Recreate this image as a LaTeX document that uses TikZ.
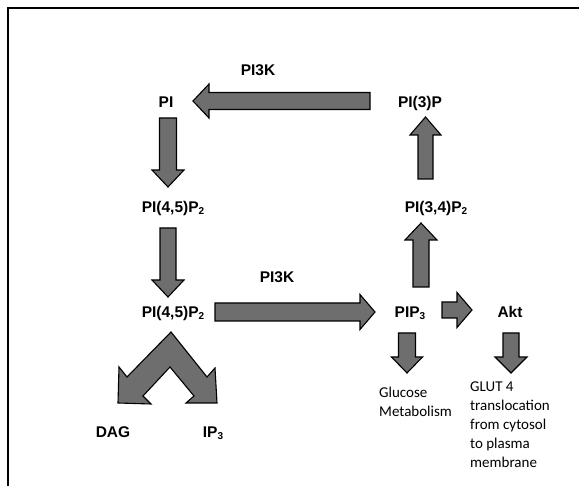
\documentclass[tikz,border=0pt]{standalone}
\usepackage{fontspec}
\setmainfont{Liberation Sans}
\newfontfamily\calibrifont{Carlito}
\usetikzlibrary{calc}
\definecolor{arrowgray}{HTML}{6E6E6E}
\tikzset{
  blockarrow/.style n args={3}{draw=black, line width=1.1pt, fill=arrowgray, line join=miter,
    to path={
      ($(\tikztostart)!#1pt!90:(\tikztotarget)$) --
      ($(\tikztotarget)!#3pt!(\tikztostart)!#1pt!90:(\tikztotarget)$) --
      ($(\tikztotarget)!#3pt!(\tikztostart)!#2pt!90:(\tikztotarget)$) --
      (\tikztotarget) --
      ($(\tikztotarget)!#3pt!(\tikztostart)!#2pt!-90:(\tikztotarget)$) --
      ($(\tikztotarget)!#3pt!(\tikztostart)!#1pt!-90:(\tikztotarget)$) --
      ($(\tikztostart)!#1pt!-90:(\tikztotarget)$) -- cycle}},
  lbl/.style={font=\bfseries\fontsize{15.5}{18}\selectfont, inner sep=0pt, anchor=base},
  note/.style={font=\calibrifont\fontsize{15}{19}\selectfont, inner sep=0pt, align=left, anchor=north west},
}
\newcommand\subs[1]{\raisebox{-2.5pt}{\fontsize{10}{10}\selectfont #1}}
\begin{document}
\begin{tikzpicture}[x=1pt,y=-1pt]
\useasboundingbox (0,0) rectangle (579,486);
% frame
\draw[line width=2pt] (7.5,486) -- (7.5,8) -- (579,8);

% labels
\node[lbl] (pik1) at (258,75.5) {PI3K};
\node[lbl] (pi) at (166,107.5) {PI};
\node[lbl] (pi3p) at (420,107.5) {PI(3)P};
\node[lbl] (pipa) at (173,212.5) {PI(4,5)P\subs{2}};
\node[lbl] (pipb) at (173,317.5) {PI(4,5)P\subs{2}};
\node[lbl] (pik2) at (277,282.5) {PI3K};
\node[lbl] (pip3) at (410,317.5) {PIP\subs{3}};
\node[lbl] (pi34) at (436,212.5) {PI(3,4)P\subs{2}};
\node[lbl] (akt) at (510,317.5) {Akt};
\node[lbl] (dag) at (113,437.5) {DAG};
\node[lbl] (ip3) at (213,437.5) {IP\subs{3}};
\node[note] (gluc) at (379,387) {Glucose\\Metabolism};
\node[note] (glut) at (470,382) {GLUT 4\\translocation\\from cytosol\\to plasma\\membrane};

% arrow end points
\coordinate (a1s) at (370,101);   \coordinate (a1t) at (193,101);
\coordinate (a2s) at (168,118);   \coordinate (a2t) at (168,187);
\coordinate (a3s) at (168,228);   \coordinate (a3t) at (168,297);
\coordinate (a4s) at (215,312);   \coordinate (a4t) at (375,312);
\coordinate (a5s) at (442,310);   \coordinate (a5t) at (472,310);
\coordinate (a6s) at (421,287);   \coordinate (a6t) at (421,223);
\coordinate (a7s) at (425.5,179); \coordinate (a7t) at (425.5,117);
\coordinate (a8s) at (407,333);   \coordinate (a8t) at (407,373);
\coordinate (a9s) at (511,333);   \coordinate (a9t) at (511,373);

\draw[blockarrow={8.5}{17}{16}] (a1s) to (a1t);
\draw[blockarrow={8.5}{16}{17}] (a2s) to (a2t);
\draw[blockarrow={8}{16}{17}] (a3s) to (a3t);
\draw[blockarrow={9}{17.5}{15}] (a4s) to (a4t);
\draw[blockarrow={8}{17.5}{15}] (a5s) to (a5t);
\draw[blockarrow={8}{16}{17}] (a6s) to (a6t);
\draw[blockarrow={7.5}{15.5}{18}] (a7s) to (a7t);
\draw[blockarrow={8.5}{15.5}{16}] (a8s) to (a8t);
\draw[blockarrow={8}{16}{16}] (a9s) to (a9t);

% split arrow to DAG and IP3
\draw[draw=black, line width=1.1pt, fill=arrowgray, line join=miter]
  (171,332) -- (127,377) -- (119,367) -- (118,403) -- (151,404) -- (143,396)
  -- (170,367) -- (194,396) -- (186,403) -- (217,403) -- (215,368) -- (207,377) -- cycle;
\end{tikzpicture}
\end{document}
